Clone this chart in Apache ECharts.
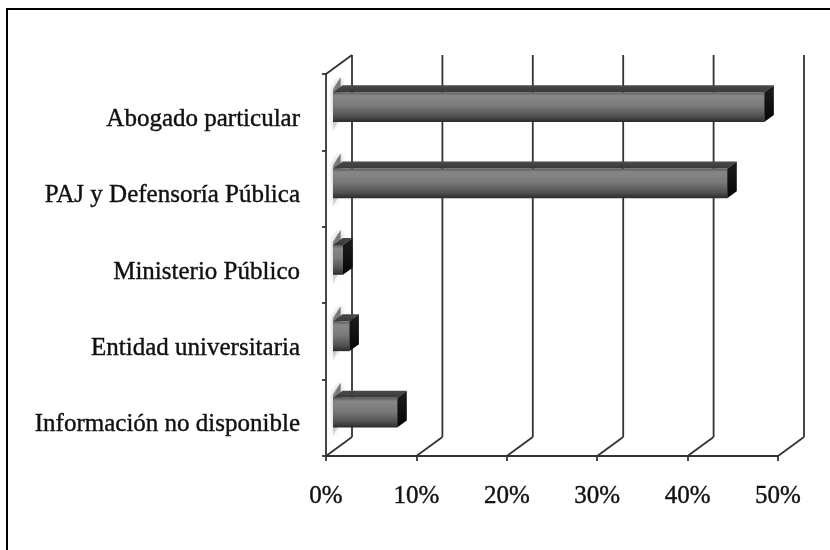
<!DOCTYPE html>
<html>
<head>
<meta charset="utf-8">
<script src="https://cdn.jsdelivr.net/npm/echarts@6/dist/echarts.min.js"></script>
<style>
  html, body { margin: 0; padding: 0; background: #fff; }
  #chart { width: 830px; height: 550px; }
</style>
</head>
<body>
<div id="chart"></div>
<script>
// Categories (top to bottom) and their shares, in percent
const categories = [
  'Abogado particular',
  'PAJ y Defensoría Pública',
  'Ministerio Público',
  'Entidad universitaria',
  'Información no disponible'
];
const shares = [47.7, 43.6, 1.1, 1.8, 7.1];
const xTicks = [0, 10, 20, 30, 40, 50];

// Depth vector of the pseudo-3D box and the depth slice a bar occupies
const DX = 26, DY = -19;
const Z1 = 0.27, Z2 = 0.64;
const BAR_RATIO = 0.39;

const wallStyle = { stroke: '#333333', lineWidth: 1.8, fill: null };

function renderWalls(params, api) {
  const v = api.value(0);
  const cs = params.coordSys;
  const x = api.coord([v, 0])[0];
  const top = cs.y, bottom = cs.y + cs.height;
  const children = [
    { type: 'line', shape: { x1: x + DX, y1: top + DY, x2: x + DX, y2: bottom + DY }, style: wallStyle },
    { type: 'line', shape: { x1: x, y1: bottom, x2: x + DX, y2: bottom + DY }, style: wallStyle }
  ];
  if (v === xTicks[0]) {
    children.push({ type: 'line', shape: { x1: x, y1: top, x2: x + DX, y2: top + DY }, style: wallStyle });
  }
  return { type: 'group', children };
}

function renderBar(params, api) {
  const val = api.value(0);
  const cat = api.value(1);
  const p0 = api.coord([0, cat]);
  const p1 = api.coord([val, cat]);
  const h = api.size([0, 1])[1] * BAR_RATIO;
  const x0 = p0[0], x1 = p1[0], cy = p0[1];
  const yt = cy - h / 2, yb = cy + h / 2;
  const fx0 = x0 + Z1 * DX, fx1 = x1 + Z1 * DX;
  const bx0 = x0 + Z2 * DX, bx1 = x1 + Z2 * DX;
  const fyt = yt + Z1 * DY, fyb = yb + Z1 * DY;
  const byt = yt + Z2 * DY, byb = yb + Z2 * DY;

  return {
    type: 'group',
    children: [
      // soft left end
      {
        type: 'polygon',
        shape: { points: [[fx0, fyt - 3], [bx0 - 2, byt - 8], [bx0 - 2, byb], [fx0, fyb + 9]] },
        style: {
          fill: { type: 'linear', x: 0, y: 0, x2: 0, y2: 1,
            colorStops: [
              { offset: 0, color: 'rgba(70,70,70,0.75)' },
              { offset: 0.5, color: 'rgba(110,110,110,0.55)' },
              { offset: 1, color: 'rgba(150,150,150,0.25)' }
            ] },
          shadowBlur: 5, shadowColor: 'rgba(90,90,90,0.7)'
        }
      },
      // top face
      {
        type: 'polygon',
        shape: { points: [[fx0, fyt], [fx1, fyt], [bx1, byt], [bx0, byt]] },
        style: {
          fill: { type: 'linear', x: 0, y: 0, x2: 0, y2: 1,
            colorStops: [{ offset: 0, color: '#4a4a4a' }, { offset: 1, color: '#383838' }] }
        }
      },
      // front face
      {
        type: 'rect',
        shape: { x: fx0, y: fyt, width: fx1 - fx0, height: fyb - fyt },
        style: {
          fill: { type: 'linear', x: 0, y: 0, x2: 0, y2: 1,
            colorStops: [
              { offset: 0, color: '#5a5a5a' },
              { offset: 0.12, color: '#878787' },
              { offset: 0.45, color: '#7a7a7a' },
              { offset: 0.8, color: '#525252' },
              { offset: 1, color: '#2a2a2a' }
            ] }
        }
      },
      // right end face
      {
        type: 'polygon',
        shape: { points: [[fx1, fyt], [bx1, byt], [bx1, byb], [fx1, fyb]] },
        style: {
          fill: { type: 'linear', x: 0, y: 0, x2: 0, y2: 1,
            colorStops: [{ offset: 0, color: '#1e1e1e' }, { offset: 1, color: '#050505' }] }
        }
      }
    ]
  };
}

const chart = echarts.init(document.getElementById('chart'), null, { renderer: 'canvas' });

const labelFont = {
  fontFamily: 'Liberation Serif', fontSize: 25, color: '#111111',
  textBorderColor: '#111111', textBorderWidth: 0.4
};

chart.setOption({
  animation: false,
  backgroundColor: '#ffffff',
  textStyle: { fontFamily: 'Liberation Serif' },
  graphic: [{
    type: 'rect',
    shape: { x: 7, y: 9, width: 900, height: 700 },
    style: { fill: null, stroke: '#000', lineWidth: 2 },
    silent: true
  }],
  grid: { left: 326, right: 52, top: 74, bottom: 94, containLabel: false },
  xAxis: {
    type: 'value',
    min: 0, max: 50, interval: 10,
    axisLine: { show: true, lineStyle: { color: '#333333', width: 1.8 } },
    axisTick: { show: true, length: 5, lineStyle: { color: '#333333', width: 1.8 } },
    splitLine: { show: false },
    axisLabel: Object.assign({ formatter: '{value}%', margin: 28 }, labelFont)
  },
  yAxis: {
    type: 'category',
    inverse: true,
    data: categories,
    boundaryGap: true,
    axisLine: { show: true, lineStyle: { color: '#333333', width: 1.8 } },
    axisTick: { show: true, length: 4, lineStyle: { color: '#333333', width: 1.8 } },
    splitLine: { show: false },
    axisLabel: Object.assign({ margin: 26, verticalAlign: 'top', lineHeight: 14 }, labelFont)
  },
  series: [
    {
      type: 'custom',
      name: 'walls',
      silent: true,
      z: 1,
      renderItem: renderWalls,
      encode: { x: 0, y: 1 },
      data: xTicks.map(v => [v, 0])
    },
    {
      type: 'custom',
      name: 'bars',
      z: 3,
      renderItem: renderBar,
      encode: { x: 0, y: 1 },
      data: shares.map((v, i) => [v, i])
    }
  ]
});
</script>
</body>
</html>
